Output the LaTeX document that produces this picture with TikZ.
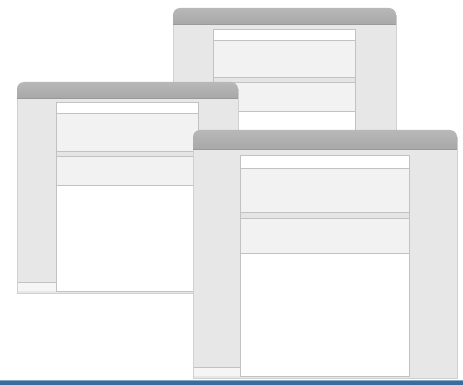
\documentclass[tikz,border=0pt]{standalone}
\definecolor{barGray}{HTML}{A8A8A8}
\definecolor{barLight}{HTML}{B8B8B8}
\definecolor{sideGray}{HTML}{E7E7E7}
\definecolor{rowGray}{HTML}{F2F2F2}
\definecolor{lineGray}{HTML}{C2C2C2}
\definecolor{edgeGray}{HTML}{D0D0D0}
\definecolor{footBlue}{HTML}{3B6D9C}
\definecolor{footLight}{HTML}{86A9CB}
\tikzset{
  winframe/.style={fill=sideGray, draw=edgeGray, line width=1pt},
  panel/.style={fill=white, draw=lineGray, line width=1pt},
  rowline/.style={draw=lineGray, line width=1pt},
}
\begin{document}
\begin{tikzpicture}[x=1pt, y=-1pt]
  \useasboundingbox (0,0) rectangle (463,385);
  \fill[white] (0,0) rectangle (463,385);

  % windows, back to front: left/top/width/bottom
  \foreach \l/\t/\w/\b in {173/8/223/285, 17/82/221/293, 193/130/264/378} {
    \pgfmathsetmacro\s{\w/221}
    \pgfmathsetmacro\r{\l+\w}
    \pgfmathsetmacro\il{\l+0.18*\w}
    \pgfmathsetmacro\ir{\l+0.82*\w}
    % frame
    \draw[winframe] (\l,\t+8) rectangle (\r,\b);
    % bottom strip
    \fill[white!60!sideGray] (\l+1,\b-11) rectangle (\ir,\b-2);
    \draw[rowline] (\l+1,\b-11) -- (\ir,\b-11);
    % content panel
    \draw[panel] (\il,\t+21*\s) rectangle (\ir,\b-2);
    \fill[rowGray] (\il,\t+32*\s) rectangle (\ir,\t+103*\s);
    \fill[black!10] (\il,\t+69*\s) rectangle (\ir,\t+74*\s);
    \draw[rowline] (\il,\t+32*\s) -- (\ir,\t+32*\s);
    \draw[rowline] (\il,\t+69*\s) -- (\ir,\t+69*\s);
    \draw[rowline] (\il,\t+74*\s) -- (\ir,\t+74*\s);
    \draw[rowline] (\il,\t+103*\s) -- (\ir,\t+103*\s);
    \draw[panel, fill=none] (\il,\t+21*\s) rectangle (\ir,\b-2);
    % title bar
    \shade[top color=barLight, bottom color=barGray]
      (\l,\t+16*\s) [rounded corners=7pt] -- (\l,\t) -- (\r,\t)
      [sharp corners] -- (\r,\t+16*\s) -- cycle;
    \draw[black!40, line width=0.8pt] (\l,\t+16*\s) -- (\r,\t+16*\s);
  }

  % footer bar
  \fill[footBlue] (0,380) rectangle (463,385);
  \draw[footLight, line width=1pt] (0,380.5) -- (463,380.5);
\end{tikzpicture}
\end{document}
